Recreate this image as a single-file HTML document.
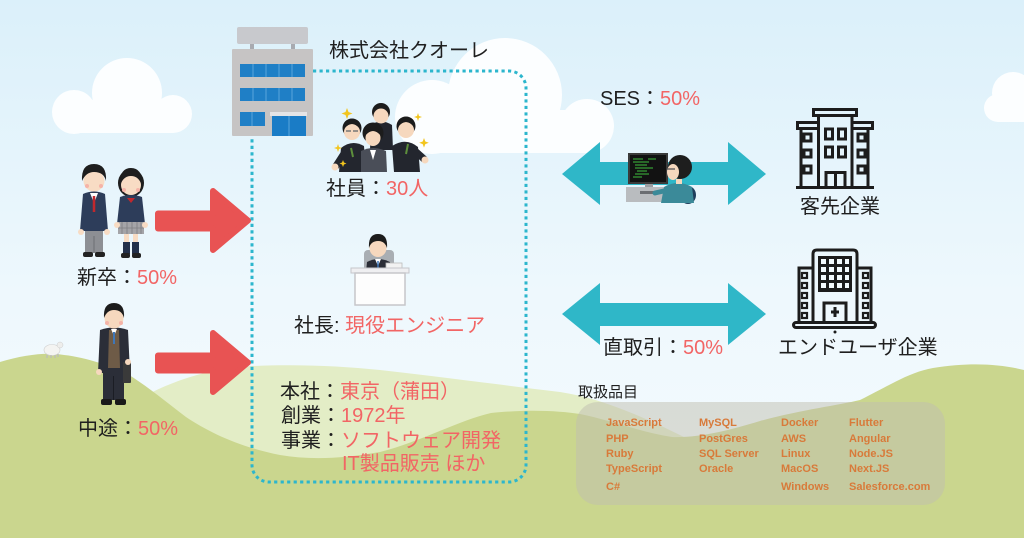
<!DOCTYPE html>
<html><head><meta charset="utf-8"><style>
html,body{margin:0;padding:0;background:#eef8fd;}
svg{display:block}
.jp{font-family:"Liberation Sans","Noto Sans CJK JP",sans-serif;font-size:20px;fill:#1f1f1f}
.r{fill:#f26565}
.li{font-family:"Liberation Sans",sans-serif;font-size:11px;font-weight:bold;fill:#d87a3a}
</style></head><body>
<svg width="1024" height="538" viewBox="0 0 1024 538" xmlns="http://www.w3.org/2000/svg">
<defs>
<linearGradient id="sky" x1="0" y1="0" x2="0" y2="1">
<stop offset="0" stop-color="#dbf0fa"/><stop offset="0.55" stop-color="#eef8fd"/><stop offset="1" stop-color="#f5fbfe"/>
</linearGradient>
</defs>
<rect width="1024" height="538" fill="url(#sky)"/>
<!-- clouds -->
<g fill="#fcfeff">
<circle cx="127" cy="93" r="35"/><circle cx="74" cy="112" r="22"/><circle cx="173" cy="114" r="19"/><rect x="74" y="100" width="99" height="33"/>
<circle cx="432" cy="117" r="37"/><circle cx="505" cy="95" r="57"/><circle cx="587" cy="126" r="27"/><rect x="432" y="110" width="155" height="43"/>
<circle cx="1013" cy="93" r="21"/><circle cx="998" cy="108" r="14"/><rect x="998" y="100" width="26" height="22"/>
</g>
<!-- hills -->
<path d="M130,405 C160,385 205,368 253,366 C300,364 340,366 380,370 C450,378 510,386 560,392 C600,398 640,415 690,440 L690,538 L130,538 Z" fill="#e3edc6"/>
<path d="M0,362 C20,356 40,353 55,354 C80,356 100,362 126,373 C150,388 170,405 186,417 C210,433 240,447 280,455 C310,460 340,459 380,452 C420,442 460,420 491,413 C530,409 560,411 580,414 C610,420 640,432 672,437 C700,438 730,430 760,421 C800,410 840,405 860,400 C890,385 910,372 933,368 C970,362 1000,364 1024,370 L1024,538 L0,538 Z" fill="#cad68e"/>
<!-- sheep -->
<g><ellipse cx="52" cy="350" rx="8" ry="5.5" fill="#f4f4f2" stroke="#cfcfcf" stroke-width="0.6"/><circle cx="60" cy="345" r="3" fill="#eeeeec" stroke="#ccc" stroke-width="0.5"/><path d="M47,355v3M51,355v3M55,355v3M58,354v3" stroke="#bbb" stroke-width="1.2"/></g>

<!-- dotted box -->
<path d="M313,71 H509 A17,17 0 0 1 526,88 V465 A17,17 0 0 1 509,482 H269 A17,17 0 0 1 252,465 V136" fill="none" stroke="#2cb6cd" stroke-width="3" stroke-dasharray="3.2 3.3"/>

<!-- company building -->
<g>
<rect x="237" y="27" width="71" height="17" rx="2" fill="#c8c9cd"/>
<rect x="250" y="44" width="4" height="6" fill="#a8aab0"/><rect x="291" y="44" width="4" height="6" fill="#a8aab0"/>
<rect x="232" y="49" width="81" height="87" rx="1" fill="#c6c4c4"/>
<rect x="240" y="64" width="65" height="13" fill="#1f7fc6"/>
<rect x="240" y="88" width="65" height="13" fill="#1f7fc6"/>
<rect x="240" y="112" width="25" height="14" fill="#1f7fc6"/>
<path d="M253,64v13M266,64v13M279,64v13M292,64v13M253,88v13M266,88v13M279,88v13M292,88v13M252,112v14" stroke="#5aa6dc" stroke-width="1"/>
<rect x="270" y="112" width="37" height="4" fill="#e4e4e6"/>
<rect x="272" y="116" width="34" height="20" fill="#1a7cc6"/>
<path d="M289,116v20" stroke="#5aa6dc" stroke-width="1"/>
</g>

<!-- employees group -->
<g>
<path d="M370,150 L371,125 Q381,118 392,125 L393,150Z" fill="#23262e"/>
<circle cx="381" cy="112" r="9" fill="#1c1c1c"/><ellipse cx="381" cy="116" rx="7.5" ry="7.5" fill="#f6d8be"/>
<path d="M373,113 Q374,104 381,104 Q388,104 389,113 Q385,108 381,108 Q377,108 373,113Z" fill="#1c1c1c"/>
<path d="M339,172 L341,148 Q352,139 364,146 L366,172Z" fill="#23262e"/>
<path d="M345,152 L336,166" stroke="#23262e" stroke-width="7" stroke-linecap="round"/><circle cx="335" cy="167" r="3.5" fill="#f6d8be"/>
<circle cx="352" cy="128" r="9.5" fill="#1c1c1c"/><ellipse cx="352" cy="132" rx="8" ry="8" fill="#f6d8be"/>
<path d="M344,129 Q345,120 352,120 Q359,120 360,129 Q356,124 352,124 Q348,124 344,129Z" fill="#1c1c1c"/>
<path d="M346,131h5M353,131h5" stroke="#777" stroke-width="1.5"/>
<path d="M394,172 L392,146 Q406,137 418,147 L420,172Z" fill="#23262e"/>
<path d="M414,150 L424,159" stroke="#23262e" stroke-width="7" stroke-linecap="round"/><circle cx="425" cy="160" r="3.5" fill="#f6d8be"/>
<circle cx="406" cy="126" r="9.5" fill="#1c1c1c"/><ellipse cx="406" cy="130" rx="8" ry="8" fill="#f6d8be"/>
<path d="M398,127 Q399,118 406,118 Q413,118 414,127 Q410,122 406,122 Q402,122 398,127Z" fill="#1c1c1c"/>
<path d="M361,172 L361,151 Q373,145 386,151 L387,172Z" fill="#4a4e58"/>
<path d="M370,150 L373,160 L376,150Z" fill="#fff"/>
<circle cx="373" cy="133" r="10.5" fill="#1c1c1c"/><ellipse cx="373" cy="138" rx="7.5" ry="8" fill="#f6d8be"/>
<path d="M365,136 Q366,127 373,127 Q380,127 381,136 Q377,131 373,131 Q369,131 365,136Z" fill="#1c1c1c"/>
<path d="M351,148l2,9M408,144l-2,10" stroke="#5d8f3c" stroke-width="2"/>
<g fill="#f2c51e"><path d="M347,108l1.5,4 4,1.5 -4,1.5 -1.5,4 -1.5,-4 -4,-1.5 4,-1.5Z"/><path d="M424,138l1.3,3.5 3.5,1.3 -3.5,1.3 -1.3,3.5 -1.3,-3.5 -3.5,-1.3 3.5,-1.3Z"/><path d="M338,144l1,3 3,1 -3,1 -1,3 -1,-3 -3,-1 3,-1Z"/><path d="M418,113l1,3 3,1 -3,1 -1,3 -1,-3 -3,-1 3,-1Z"/><path d="M343,160l1,2.5 2.5,1 -2.5,1 -1,2.5 -1,-2.5 -2.5,-1 2.5,-1Z"/></g>
</g>

<!-- students -->
<g>
<ellipse cx="131" cy="183" rx="13" ry="14" fill="#1e1e1e"/>
<path d="M83,194 Q94,189 105,194 L108,231 L80,231 Z" fill="#2d3d5a"/>
<path d="M90,193 L98,193 L94,203Z" fill="#fff"/><path d="M94,196v16" stroke="#c0282d" stroke-width="2.5"/>
<circle cx="81" cy="232" r="3" fill="#f8dcc4"/><circle cx="107" cy="232" r="3" fill="#f8dcc4"/>
<rect x="85" y="231" width="18" height="22" fill="#8d8f94"/><path d="M94,236v17" stroke="#6d6f74" stroke-width="1"/>
<rect x="83" y="252" width="10" height="5" rx="2" fill="#222"/><rect x="95" y="252" width="10" height="5" rx="2" fill="#222"/>
<ellipse cx="94" cy="181" rx="10.5" ry="10.5" fill="#f8dcc4"/>
<path d="M82,181 Q81,164 94,164 Q107,164 106,181 Q104,172 94,172 Q86,172 82,181Z" fill="#1e1e1e"/>
<circle cx="87" cy="186" r="2" fill="#f5b4a8"/><circle cx="101" cy="186" r="2" fill="#f5b4a8"/>
<path d="M120,197 Q131,193 142,197 L145,224 L117,224 Z" fill="#2d3d5a"/>
<path d="M127,198 L131,203 L135,198Z" fill="#c0282d"/>
<rect x="118" y="222" width="26" height="12" fill="#a4a4a8"/><path d="M122,222v12M127,222v12M132,222v12M137,222v12M141,222v12M118,228h26" stroke="#7d7d82" stroke-width="0.8"/>
<rect x="124" y="234" width="5" height="9" fill="#f8dcc4"/><rect x="133" y="234" width="5" height="9" fill="#f8dcc4"/>
<rect x="123" y="242" width="7" height="12" fill="#23304a"/><rect x="132" y="242" width="7" height="12" fill="#23304a"/>
<rect x="121" y="253" width="9" height="5" rx="2" fill="#222"/><rect x="132" y="253" width="9" height="5" rx="2" fill="#222"/>
<circle cx="117" cy="225" r="3" fill="#f8dcc4"/><circle cx="145" cy="225" r="3" fill="#f8dcc4"/>
<ellipse cx="131" cy="185" rx="10" ry="10" fill="#f8dcc4"/>
<path d="M120,186 Q119,168 131,168 Q143,168 142,186 Q139,176 131,176 Q123,176 120,186Z" fill="#1e1e1e"/>
<circle cx="124" cy="190" r="2" fill="#f5b4a8"/><circle cx="138" cy="190" r="2" fill="#f5b4a8"/>
</g>

<!-- businessman -->
<g>
<path d="M100,330 Q114,325 128,330 L130,373 L98,373 Z" fill="#2b2e38"/>
<polygon points="109,330 119,330 120,368 108,368" fill="#6e5b47"/>
<path d="M111,329 L114,336 L117,329Z" fill="#fff"/><path d="M114,332v12" stroke="#3f77b8" stroke-width="2"/>
<rect x="103" y="372" width="21" height="28" fill="#2b2e38"/><path d="M113.5,376v24" stroke="#1b1d24" stroke-width="1"/>
<rect x="101" y="399" width="11" height="6" rx="2" fill="#1a1a1a"/><rect x="115" y="399" width="11" height="6" rx="2" fill="#1a1a1a"/>
<rect x="123" y="362" width="8" height="21" rx="1" fill="#3a3a3a"/>
<circle cx="99" cy="372" r="3" fill="#f6d8be"/><circle cx="128" cy="362" r="3" fill="#f6d8be"/>
<ellipse cx="114" cy="318" rx="9.5" ry="10.5" fill="#f6d8be"/>
<path d="M104,318 Q103,303 114,303 Q125,303 124,318 Q122,310 114,310 Q107,310 104,318Z" fill="#1c1c1c"/>
<circle cx="107" cy="323" r="2" fill="#f5b4a8"/><circle cx="121" cy="323" r="2" fill="#f5b4a8"/>
</g>

<!-- president -->
<g>
<rect x="364" y="250" width="30" height="24" rx="4" fill="#a9aeb3"/>
<path d="M366,272 L367,262 Q378,256 390,262 L391,272 Z" fill="#2a2d36"/>
<path d="M375,259 L378,266 L381,259Z" fill="#fff"/><path d="M378,261v9" stroke="#3f77b8" stroke-width="1.5"/>
<ellipse cx="378" cy="248" rx="8.5" ry="9" fill="#f6d8be"/>
<path d="M369,248 Q368,234 378,234 Q388,234 387,248 Q385,241 378,241 Q371,241 369,248Z" fill="#1c1c1c"/>
<rect x="386" y="263" width="16" height="5" fill="#f2f2f2" stroke="#bbb" stroke-width="0.8"/>
<rect x="351" y="268" width="58" height="5" fill="#efeff1" stroke="#c6c6ca" stroke-width="1"/>
<rect x="355" y="273" width="50" height="32" fill="#fdfdfd" stroke="#c6c6ca" stroke-width="1.5"/>
</g>

<!-- red arrows -->
<g fill="#e85353" stroke="#e85353" stroke-width="6" stroke-linejoin="round">
<path d="M158,213.5 L213,213.5 L213,191 L248,220.5 L213,250 L213,228.5 L158,228.5 Z"/>
<path d="M158,355.5 L213,355.5 L213,333 L248,362.5 L213,392 L213,370.5 L158,370.5 Z"/>
</g>

<!-- blue arrows -->
<g fill="#2fb7c8">
<polygon points="562,174 600,142 600,162 728,162 728,142 766,174 728,205 728,185 600,185 600,205"/>
<polygon points="562,314 600,283 600,303 728,303 728,283 766,314 728,345 728,326 600,326 600,345"/>
</g>

<!-- programmer -->
<g>
<rect x="645" y="183" width="8" height="5" fill="#9a9ea2"/>
<rect x="626" y="187" width="40" height="15" fill="#b9bcbf"/>
<rect x="628" y="153" width="40" height="31" fill="#3a3a3a"/>
<rect x="630" y="155" width="36" height="27" fill="#121212"/>
<path d="M633,159h10M633,162h16M635,165h12M635,168h18M637,171h10M635,174h14M633,177h9M648,159h8" stroke="#3dbd3d" stroke-width="1.1"/>
<rect x="640" y="191" width="20" height="3" fill="#6b6e72"/>
<ellipse cx="688" cy="195" rx="8" ry="9" fill="#1f3e5c"/>
<path d="M661,203 L664,187 Q678,179 692,187 L694,203 Z" fill="#3b8a99"/>
<path d="M668,190 L655,193" stroke="#3b8a99" stroke-width="5" stroke-linecap="round"/>
<circle cx="680" cy="167" r="12" fill="#1e1e1e"/>
<ellipse cx="673" cy="172" rx="6" ry="8" fill="#f6d8be"/>
<path d="M667,169h8" stroke="#555" stroke-width="1.3"/>
<rect x="676" y="179" width="6" height="5" fill="#f6d8be"/>
</g>

<!-- building icon 1 -->
<g fill="none" stroke="#1c1c1c" stroke-width="3">
<rect x="813.5" y="109.5" width="43" height="6"/>
<path d="M818.5,115.5 V187 M852,115.5 V187"/>
<path d="M818.5,122.5 H797.5 V128.5 H818.5 M852,122.5 H872.5 V128.5 H852"/>
<path d="M801,128.5 V187 M868,128.5 V187"/>
<path d="M796,187.5 H874"/>
<rect x="804" y="134" width="7" height="7"/><rect x="804" y="150" width="7" height="7"/><rect x="804" y="166" width="7" height="7"/>
<rect x="858" y="134" width="7" height="7"/><rect x="858" y="150" width="7" height="7"/><rect x="858" y="166" width="7" height="7"/>
<rect x="825.5" y="129" width="7" height="10"/><rect x="838.5" y="129" width="7" height="10"/>
<rect x="825.5" y="147" width="7" height="10"/><rect x="838.5" y="147" width="7" height="10"/>
<path d="M826,187 V172.5 H845 V187 M835.5,172.5 V187"/>
</g>

<!-- building icon 2 -->
<g fill="none" stroke="#1c1c1c" stroke-width="3">
<path d="M813,322 V254 Q813,250 817,250 H853 Q857,250 857,254 V322"/>
<path d="M813,268 H799 V322 M857,268 H871 V322"/>
<rect x="793.5" y="322.5" width="82" height="5" rx="2.5"/>
<path d="M824,322 V303 H846 V322 M835,307 V317 M831,312 H839"/>
</g>
<g fill="#1c1c1c">
<rect x="818" y="256" width="34" height="36"/>
<circle cx="835" cy="332" r="1.5"/>
</g>
<g fill="#f3fafd">
<rect x="821" y="259" width="5" height="5"/><rect x="829" y="259" width="5" height="5"/><rect x="837" y="259" width="5" height="5"/><rect x="845" y="259" width="4" height="5"/>
<rect x="821" y="267" width="5" height="5"/><rect x="829" y="267" width="5" height="5"/><rect x="837" y="267" width="5" height="5"/><rect x="845" y="267" width="4" height="5"/>
<rect x="821" y="275" width="5" height="5"/><rect x="829" y="275" width="5" height="5"/><rect x="837" y="275" width="5" height="5"/><rect x="845" y="275" width="4" height="5"/>
<rect x="821" y="283" width="5" height="5"/><rect x="829" y="283" width="5" height="5"/><rect x="837" y="283" width="5" height="5"/><rect x="845" y="283" width="4" height="5"/>
</g>
<g fill="none" stroke="#1c1c1c" stroke-width="2.2">
<rect x="802" y="273" width="5" height="5"/><rect x="802" y="283" width="5" height="5"/><rect x="802" y="293" width="5" height="5"/><rect x="802" y="303" width="5" height="5"/><rect x="802" y="313" width="5" height="5"/>
<rect x="863" y="273" width="5" height="5"/><rect x="863" y="283" width="5" height="5"/><rect x="863" y="293" width="5" height="5"/><rect x="863" y="303" width="5" height="5"/><rect x="863" y="313" width="5" height="5"/>
</g>

<!-- gray product box -->
<rect x="576" y="402" width="369" height="103" rx="22" fill="rgba(192,190,175,0.5)"/>

<!-- texts -->
<text class="jp" x="329" y="57">株式会社クオーレ</text>
<text class="jp" x="326" y="195">社員：<tspan class="r">30人</tspan></text>
<text class="jp" x="77" y="284">新卒：<tspan class="r">50%</tspan></text>
<text class="jp" x="78" y="435">中途：<tspan class="r">50%</tspan></text>
<text class="jp" x="294" y="332">社長: <tspan class="r">現役エンジニア</tspan></text>
<text class="jp" x="280" y="398">本社：<tspan class="r">東京（蒲田）</tspan></text>
<text class="jp" x="281" y="422">創業：<tspan class="r">1972年</tspan></text>
<text class="jp" x="281" y="447">事業：<tspan class="r">ソフトウェア開発</tspan></text>
<text class="jp r" x="342" y="470">IT製品販売 ほか</text>
<text class="jp" x="600" y="105">SES：<tspan class="r">50%</tspan></text>
<text class="jp" x="603" y="354">直取引：<tspan class="r">50%</tspan></text>
<text class="jp" x="800" y="213">客先企業</text>
<text class="jp" x="778" y="354">エンドユーザ企業</text>
<text class="jp" x="578" y="397" style="font-size:15px">取扱品目</text>

<g class="li">
<text class="li" x="606" y="426">JavaScript</text>
<text class="li" x="606" y="442">PHP</text>
<text class="li" x="606" y="457">Ruby</text>
<text class="li" x="606" y="472">TypeScript</text>
<text class="li" x="606" y="490">C#</text>
<text class="li" x="699" y="426">MySQL</text>
<text class="li" x="699" y="442">PostGres</text>
<text class="li" x="699" y="457">SQL Server</text>
<text class="li" x="699" y="472">Oracle</text>
<text class="li" x="781" y="426">Docker</text>
<text class="li" x="781" y="442">AWS</text>
<text class="li" x="781" y="457">Linux</text>
<text class="li" x="781" y="472">MacOS</text>
<text class="li" x="781" y="490">Windows</text>
<text class="li" x="849" y="426">Flutter</text>
<text class="li" x="849" y="442">Angular</text>
<text class="li" x="849" y="457">Node.JS</text>
<text class="li" x="849" y="472">Next.JS</text>
<text class="li" x="849" y="490">Salesforce.com</text>
</g>
</svg>
</body></html>
